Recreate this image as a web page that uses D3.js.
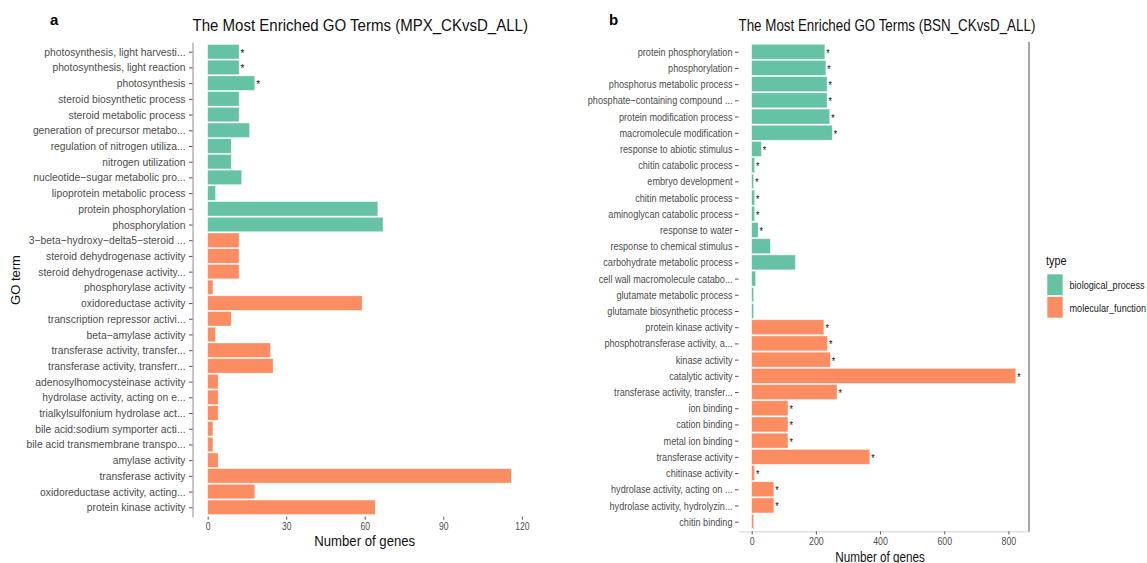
<!DOCTYPE html>
<html>
<head>
<meta charset="utf-8">
<script src="https://cdn.jsdelivr.net/npm/d3@7"></script>
<style>
  html, body { margin: 0; padding: 0; background: #fff; }
  svg { display: block; }
  text { font-family: "Liberation Sans", Arial, Helvetica, sans-serif; }
</style>
</head>
<body>
<script>
// ---- Panel a: MPX_CKvsD_ALL ----
const termsA = [
  "photosynthesis, light harvesti...", "photosynthesis, light reaction", "photosynthesis",
  "steroid biosynthetic process", "steroid metabolic process", "generation of precursor metabo...",
  "regulation of nitrogen utiliza...", "nitrogen utilization", "nucleotide\u2212sugar metabolic pro...",
  "lipoprotein metabolic process", "protein phosphorylation", "phosphorylation",
  "3\u2212beta\u2212hydroxy\u2212delta5\u2212steroid ...", "steroid dehydrogenase activity", "steroid dehydrogenase activity...",
  "phosphorylase activity", "oxidoreductase activity", "transcription repressor activi...",
  "beta\u2212amylase activity", "transferase activity, transfer...", "transferase activity, transferr...",
  "adenosylhomocysteinase activity", "hydrolase activity, acting on e...", "trialkylsulfonium hydrolase act...",
  "bile acid:sodium symporter acti...", "bile acid transmembrane transpo...", "amylase activity",
  "transferase activity", "oxidoreductase activity, acting...", "protein kinase activity"
];
const countsA = [12, 12, 18, 12, 12, 16, 9, 9, 13, 3, 65, 67,
                 12, 12, 12, 2, 59, 9, 3, 24, 25, 4, 4, 4, 2, 2, 4, 116, 18, 64];
const typesA = ["BP","BP","BP","BP","BP","BP","BP","BP","BP","BP","BP","BP",
                "MF","MF","MF","MF","MF","MF","MF","MF","MF","MF","MF","MF","MF","MF","MF","MF","MF","MF"];
const starsA = [1,1,1,0,0,0,0,0,0,0,0,0, 0,0,0,0,0,0,0,0,0,0,0,0,0,0,0,0,0,0];
const ticksA = [0, 30, 60, 90, 120];

// ---- Panel b: BSN_CKvsD_ALL ----
const termsB = [
  "protein phosphorylation", "phosphorylation", "phosphorus metabolic process",
  "phosphate\u2212containing compound ...", "protein modification process", "macromolecule modification",
  "response to abiotic stimulus", "chitin catabolic process", "embryo development",
  "chitin metabolic process", "aminoglycan catabolic process", "response to water",
  "response to chemical stimulus", "carbohydrate metabolic process", "cell wall macromolecule catabo...",
  "glutamate metabolic process", "glutamate biosynthetic process",
  "protein kinase activity", "phosphotransferase activity, a...", "kinase activity",
  "catalytic activity", "transferase activity, transfer...", "ion binding",
  "cation binding", "metal ion binding", "transferase activity",
  "chitinase activity", "hydrolase activity, acting on ...", "hydrolase activity, hydrolyzin...",
  "chitin binding"
];
const countsB = [228, 231, 235, 235, 243, 251, 30, 9, 6, 9, 9, 20, 58, 136, 12, 6, 6,
                 225, 236, 245, 823, 266, 113, 113, 113, 368, 9, 69, 69, 6];
const typesB = ["BP","BP","BP","BP","BP","BP","BP","BP","BP","BP","BP","BP","BP","BP","BP","BP","BP",
                "MF","MF","MF","MF","MF","MF","MF","MF","MF","MF","MF","MF","MF"];
const starsB = [1,1,1,1,1,1,1,1,1,1,1,1,0,0,0,0,0, 1,1,1,1,1,1,1,1,1,1,1,1,0];
const ticksB = [0, 200, 400, 600, 800];

const typeKeys = ["BP", "MF"];
const typeNames = ["biological_process", "molecular_function"];
const typeColors = ["#66C2A5", "#FC8D62"];

const color = d3.scaleOrdinal().domain(typeKeys).range(typeColors);

const svg = d3.select("body").append("svg")
  .attr("width", 1147).attr("height", 563);

// text placed at (x, y) and condensed horizontally by sx
function sqText(parent, x, y, str, sx, size, fill, anchor) {
  return parent.append("text")
    .attr("transform", `translate(${x},${y}) scale(${sx},1)`)
    .attr("text-anchor", anchor || "start")
    .attr("font-size", size).attr("fill", fill)
    .text(str);
}

// condense the tick labels produced by a d3 axis
function squeezeTicks(sel, sx) {
  sel.selectAll(".tick text").each(function () {
    const t = d3.select(this);
    const x0 = +t.attr("x") || 0;
    t.attr("x", x0 / sx).attr("transform", `scale(${sx},1)`);
  });
}

function drawPanel(o) {
  const g = svg.append("g");
  const max = d3.max(o.counts);
  const x = d3.scaleLinear().domain([-0.05 * max, 1.05 * max]).range(o.xRange);
  const y = d3.scalePoint().domain(o.terms).range(o.yRange).padding(0.6);
  const bh = y.step() * 0.92;
  const rows = o.terms.map((t, i) => ({ t, v: o.counts[i], type: o.types[i], star: o.stars[i] }));

  // bars
  g.selectAll("rect.bar").data(rows).join("rect")
    .attr("class", "bar")
    .attr("x", x(0))
    .attr("y", d => y(d.t) - bh / 2)
    .attr("width", d => x(d.v) - x(0))
    .attr("height", bh)
    .attr("fill", d => color(d.type))
    .attr("stroke", "#ffffff").attr("stroke-opacity", 0.6).attr("stroke-width", 0.6);

  // significance marks
  rows.filter(d => d.star).forEach(d => {
    sqText(g, x(d.v) + 1.5, y(d.t) + 5, "*", o.sx, 10.5, "#111");
  });

  // y axis
  const ya = g.append("g").attr("transform", `translate(${o.xRange[0]},0)`)
    .call(d3.axisLeft(y).tickSize(o.yTick).tickSizeOuter(0).tickPadding(o.yPad));
  ya.select(".domain").attr("stroke", o.showYLine ? "#8c8c8c" : "none");
  ya.selectAll(".tick line").attr("stroke", "#555");
  ya.selectAll(".tick text").attr("font-size", 11).attr("fill", "#4d4d4d")
    .attr("font-family", "Liberation Sans, Arial, sans-serif");
  squeezeTicks(ya, o.sx);

  // x axis
  const xa = g.append("g").attr("transform", `translate(0,${o.yRange[1]})`)
    .call(d3.axisBottom(x).tickValues(o.ticks).tickSize(3).tickSizeOuter(0).tickPadding(o.xPad));
  xa.select(".domain").attr("stroke", o.showXLine ? "#d0d0d0" : "none");
  xa.selectAll(".tick line").attr("stroke", "#555");
  xa.selectAll(".tick text").attr("font-size", 11).attr("fill", "#4d4d4d")
    .attr("font-family", "Liberation Sans, Arial, sans-serif");
  squeezeTicks(xa, o.tickSx);

  if (o.rightLine) {
    g.append("line")
      .attr("x1", o.xRange[1]).attr("x2", o.xRange[1])
      .attr("y1", o.yRange[0]).attr("y2", o.yRange[1])
      .attr("stroke", "#6e6e6e").attr("stroke-width", 1.2);
  }

  // titles
  sqText(g, o.xRange[0], 31, o.title, o.titleSx, 16, "#111");
  g.append("text")
    .attr("x", o.tagX).attr("y", 25)
    .attr("font-size", 15).attr("font-weight", "bold").attr("fill", "#000")
    .text(o.tag);
  sqText(g, (x(0) + x(o.ticks[o.ticks.length - 1])) / 2, o.xTitleY, "Number of genes",
         o.titleSx, 14, "#111", "middle");
  return { x, y };
}

drawPanel({
  terms: termsA, counts: countsA, types: typesA, stars: starsA, ticks: ticksA,
  xRange: [192.5, 526.5], yRange: [42.3, 516.7],
  yTick: 3.5, yPad: 3.5, xPad: 2,
  sx: 0.94, titleSx: 0.94, tickSx: 0.78,
  showYLine: true, showXLine: false, rightLine: false,
  title: "The Most Enriched GO Terms (MPX_CKvsD_ALL)", tag: "a", tagX: 50, xTitleY: 546
});

drawPanel({
  terms: termsB, counts: countsB, types: typesB, stars: starsB, ticks: ticksB,
  xRange: [738.5, 1029], yRange: [42, 531.4],
  yTick: 3.5, yPad: 2.5, xPad: 3,
  sx: 0.83, titleSx: 0.836, tickSx: 0.8,
  showYLine: false, showXLine: true, rightLine: true,
  title: "The Most Enriched GO Terms (BSN_CKvsD_ALL)", tag: "b", tagX: 609, xTitleY: 561.5
});

// y axis title
svg.append("text")
  .attr("transform", "translate(20,280) rotate(-90)")
  .attr("text-anchor", "middle")
  .attr("font-size", 13).attr("fill", "#111")
  .text("GO term");

// legend
const leg = svg.append("g").attr("transform", "translate(1046,0)");
sqText(leg, 0, 265, "type", 0.83, 13, "#111");
leg.selectAll("rect.key").data(typeKeys).join("rect")
  .attr("class", "key")
  .attr("x", 1).attr("y", (d, i) => 274 + i * 22.5)
  .attr("width", 16).attr("height", 21.5)
  .attr("fill", d => color(d))
  .attr("stroke", "#fff").attr("stroke-width", 0.6);
typeNames.forEach((name, i) => {
  sqText(leg, 23.5, 289 + i * 22.5, name, 0.83, 11, "#222");
});
</script>
</body>
</html>
